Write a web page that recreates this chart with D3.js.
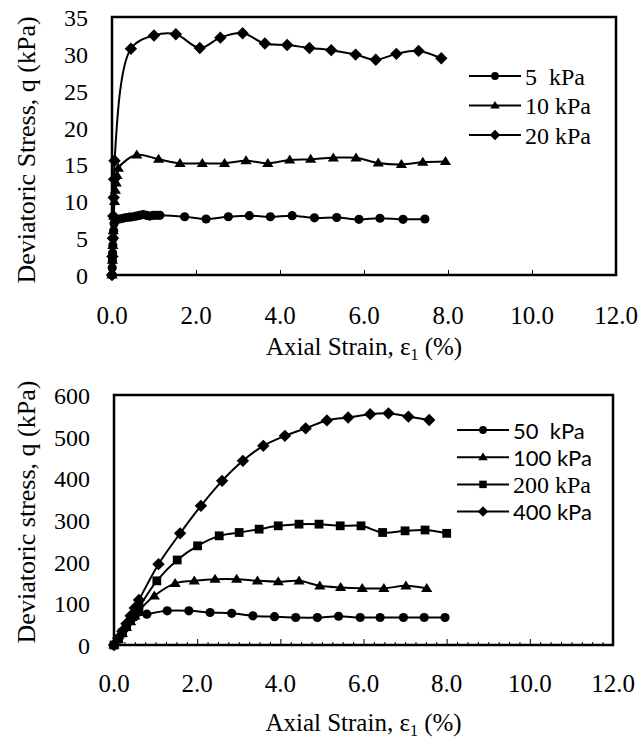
<!DOCTYPE html>
<html>
<head>
<meta charset="utf-8">
<script src="https://cdn.jsdelivr.net/npm/d3@7"></script>
<style>
  html, body { margin: 0; padding: 0; background: #fff; }
  svg { display: block; }
  text { fill: #000; }
</style>
</head>
<body>
<div id="chart"></div>
<script>
// ---- Upper panel: low confining pressures ----
const strain5 = [0, 0.005, 0.01, 0.015, 0.02, 0.03, 0.04, 0.05, 0.1, 0.18, 0.26, 0.34, 0.42, 0.5, 0.58, 0.66, 0.74, 0.82, 0.9, 0.98, 1.06, 1.14, 1.73, 2.24, 2.77, 3.27, 3.77, 4.29, 4.82, 5.35, 5.88, 6.38, 6.93, 7.45];
const q5 = [0, 1, 2, 3, 4, 5, 6, 7, 7.5, 7.6, 7.7, 7.8, 7.85, 7.9, 8.0, 8.1, 8.2, 8.1, 8.0, 8.1, 8.1, 8.1, 7.9, 7.6, 7.9, 8.05, 7.9, 8.05, 7.75, 7.8, 7.55, 7.7, 7.55, 7.6];

const strain10 = [0, 0.01, 0.02, 0.03, 0.04, 0.06, 0.08, 0.1, 0.12, 0.15, 0.59, 1.11, 1.62, 2.15, 2.68, 3.19, 3.71, 4.23, 4.73, 5.27, 5.81, 6.34, 6.89, 7.40, 7.94];
const q10 = [0, 2, 4, 6, 8, 10, 11.5, 12.5, 13.5, 14.5, 16.3, 15.7, 15.15, 15.15, 15.15, 15.5, 15.15, 15.6, 15.7, 15.9, 15.9, 15.2, 15.0, 15.3, 15.4];

const strain20 = [0, 0.01, 0.02, 0.03, 0.04, 0.05, 0.06, 0.45, 1.0, 1.52, 2.09, 2.58, 3.11, 3.64, 4.17, 4.70, 5.22, 5.80, 6.28, 6.77, 7.30, 7.84];
const q20 = [0, 2.5, 5, 8, 10.5, 13, 15.5, 30.7, 32.5, 32.65, 30.8, 32.2, 32.8, 31.4, 31.2, 30.8, 30.5, 29.9, 29.2, 30.0, 30.4, 29.4];

const topLabels = ["5  kPa", "10 kPa", "20 kPa"];
const topYTicks = [0, 5, 10, 15, 20, 25, 30, 35];

// ---- Lower panel: high confining pressures ----
const strain50 = [0, 0.1, 0.2, 0.3, 0.4, 0.5, 0.79, 1.28, 1.80, 2.31, 2.83, 3.34, 3.86, 4.37, 4.89, 5.40, 5.92, 6.40, 6.96, 7.46, 7.96];
const q50 = [0, 15, 30, 45, 58, 68, 74, 82, 82, 78, 76, 70, 68, 66, 66, 69, 66, 66, 66, 66, 66];

const strain100 = [0, 0.1, 0.2, 0.3, 0.4, 0.5, 0.6, 0.97, 1.47, 1.93, 2.43, 2.95, 3.45, 3.95, 4.45, 4.95, 5.45, 5.97, 6.49, 7.02, 7.52];
const q100 = [0, 14, 28, 42, 56, 70, 82, 118, 148, 154, 158, 158, 154, 152, 154, 142, 138, 136, 136, 142, 136];

const strain200 = [0, 0.1, 0.2, 0.3, 0.4, 0.5, 0.6, 1.03, 1.52, 2.01, 2.53, 3.01, 3.49, 3.95, 4.45, 4.93, 5.44, 5.94, 6.46, 7.00, 7.48, 8.00];
const q200 = [0, 14, 29, 44, 59, 74, 90, 154, 204, 238, 262, 270, 278, 286, 290, 290, 286, 286, 270, 274, 276, 268];

const strain400 = [0, 0.1, 0.2, 0.3, 0.4, 0.5, 0.6, 1.07, 1.59, 2.09, 2.60, 3.10, 3.59, 4.11, 4.61, 5.12, 5.63, 6.16, 6.60, 7.08, 7.58];
const q400 = [0, 16, 33, 51, 70, 89, 108, 194, 268, 334, 394, 442, 478, 502, 520, 539, 546, 554, 556, 548, 540];

const bottomLabels = ["50  kPa", "100 kPa", "200 kPa", "400 kPa"];
const bottomYTicks = [0, 100, 200, 300, 400, 500, 600];

const xTicks = [0, 2, 4, 6, 8, 10, 12];

const W = 641, H = 738;
const SERIF = "'Liberation Serif', 'Times New Roman', serif";
const SANS = "Lato, 'Liberation Sans', sans-serif";

const svg = d3.select("#chart").append("svg")
  .attr("width", W).attr("height", H)
  .attr("viewBox", `0 0 ${W} ${H}`);

// Marker shapes, centred on the origin
function markerPath(kind, k) {
  k = k || 1;
  const p = d3.path();
  if (kind === "circle") {
    const r = 4.6 * k;
    p.arc(0, 0, r, 0, 2 * Math.PI);
  } else if (kind === "triangle") {
    const w = 5.6 * k, h = 9 * k;
    p.moveTo(0, -h * 0.6); p.lineTo(w, h * 0.4); p.lineTo(-w, h * 0.4); p.closePath();
  } else if (kind === "square") {
    const s = 4.4 * k;
    p.rect(-s, -s, 2 * s, 2 * s);
  } else {
    const s = 6.2 * k;
    p.moveTo(0, -s); p.lineTo(s, 0); p.lineTo(0, s); p.lineTo(-s, 0); p.closePath();
  }
  return p.toString();
}

function drawPanel(cfg) {
  const x = d3.scaleLinear().domain([0, 12]).range([cfg.left, cfg.right]);
  const y = d3.scaleLinear().domain([0, cfg.yMax]).range([cfg.bottom, cfg.top]);
  const g = svg.append("g");

  // x axis ticks (inside the frame)
  const xAxis = d3.axisBottom(x).tickValues(xTicks).tickSize(-cfg.majorTick).tickFormat("");
  const ax = g.append("g").attr("transform", `translate(0,${cfg.bottom})`).call(xAxis);
  ax.select(".domain").remove();
  ax.selectAll("line").attr("stroke", "#000").attr("stroke-width", 1);

  if (cfg.minor) {
    const minorVals = d3.range(0, 12.001, 0.25).filter(v => Math.abs(v / 2 - Math.round(v / 2)) > 1e-6);
    const mAxis = d3.axisBottom(x).tickValues(minorVals).tickSize(-3).tickFormat("");
    const mx = g.append("g").attr("transform", `translate(0,${cfg.bottom})`).call(mAxis);
    mx.select(".domain").remove();
    mx.selectAll("line").attr("stroke", "#000").attr("stroke-width", 1);
  }

  // x tick labels
  g.append("g").selectAll("text").data(xTicks).join("text")
    .attr("x", d => x(d)).attr("y", cfg.bottom + cfg.xLabelDy)
    .attr("text-anchor", "middle")
    .style("font-family", SERIF).style("font-size", "25px")
    .text(d => d.toFixed(1));

  // y tick labels
  g.append("g").selectAll("text").data(cfg.yTicks).join("text")
    .attr("x", cfg.left - 24).attr("y", d => y(d) + 9)
    .attr("text-anchor", "end")
    .style("font-family", SERIF).style("font-size", "24px")
    .text(d => d);

  // series
  const line = d3.line().x(d => x(d[0])).y(d => y(d[1])).curve(d3.curveCatmullRom.alpha(0.5));
  cfg.series.forEach(s => {
    const pts = s.xs.map((v, i) => [v, s.ys[i]]);
    g.append("path").datum(pts)
      .attr("d", line).attr("fill", "none")
      .attr("stroke", "#000").attr("stroke-width", 2);
    g.append("g").selectAll("path").data(pts).join("path")
      .attr("transform", d => `translate(${x(d[0])},${y(d[1])})`)
      .attr("d", markerPath(s.marker)).attr("fill", "#000");
  });

  // frame
  g.append("rect")
    .attr("x", cfg.left).attr("y", cfg.top)
    .attr("width", cfg.right - cfg.left).attr("height", cfg.bottom - cfg.top)
    .attr("fill", "none").attr("stroke", "#000").attr("stroke-width", 2.5);

  // legend
  const lg = g.append("g");
  cfg.series.forEach((s, i) => {
    const cy = cfg.legY + i * cfg.legStep;
    lg.append("line").attr("x1", cfg.legX).attr("x2", cfg.legX + 52)
      .attr("y1", cy).attr("y2", cy).attr("stroke", "#000").attr("stroke-width", 2);
    lg.append("path").attr("transform", `translate(${cfg.legX + 26},${cy})`)
      .attr("d", markerPath(s.marker, 0.85)).attr("fill", "#000");
    lg.append("text").attr("x", cfg.legX + 56).attr("y", cy + 8.5)
      .style("font-family", s.font || SERIF).style("font-size", s.font === SANS ? "22px" : "24px")
      .style("white-space", "pre")
      .text(s.label);
  });

  // x axis title
  const xt = g.append("text")
    .attr("x", (cfg.left + cfg.right) / 2).attr("y", cfg.bottom + cfg.xTitleDy)
    .attr("text-anchor", "middle")
    .style("font-family", SERIF).style("font-size", "25px");
  xt.append("tspan").text("Axial Strain, ε");
  xt.append("tspan").attr("dy", 5).style("font-size", "16px").text("1");
  xt.append("tspan").attr("dy", -5).text(" (%)");

  // y axis title
  g.append("text")
    .attr("transform", `translate(${cfg.yTitleX},${cfg.yTitleY}) rotate(-90)`)
    .attr("text-anchor", "middle")
    .style("font-family", SERIF).style("font-size", "26px")
    .text(cfg.yTitle);
}

drawPanel({
  left: 112, right: 616, top: 17, bottom: 275, yMax: 35,
  yTicks: topYTicks, majorTick: 5, minor: false,
  xLabelDy: 49, xTitleDy: 80,
  yTitle: "Deviatoric Stress, q (kPa)", yTitleX: 35, yTitleY: 150,
  legX: 469, legY: 76, legStep: 29.5,
  series: [
    { xs: strain5, ys: q5, marker: "circle", label: topLabels[0] },
    { xs: strain10, ys: q10, marker: "triangle", label: topLabels[1] },
    { xs: strain20, ys: q20, marker: "diamond", label: topLabels[2] }
  ]
});

drawPanel({
  left: 114, right: 613, top: 395, bottom: 645, yMax: 600,
  yTicks: bottomYTicks, majorTick: 6, minor: true,
  xLabelDy: 47, xTitleDy: 86,
  yTitle: "Deviatoric stress, q (kPa)", yTitleX: 35, yTitleY: 512,
  legX: 457, legY: 430, legStep: 27.2,
  series: [
    { xs: strain50, ys: q50, marker: "circle", label: bottomLabels[0], font: SANS },
    { xs: strain100, ys: q100, marker: "triangle", label: bottomLabels[1], font: SANS },
    { xs: strain200, ys: q200, marker: "square", label: bottomLabels[2] },
    { xs: strain400, ys: q400, marker: "diamond", label: bottomLabels[3], font: SANS }
  ]
});
</script>
</body>
</html>
